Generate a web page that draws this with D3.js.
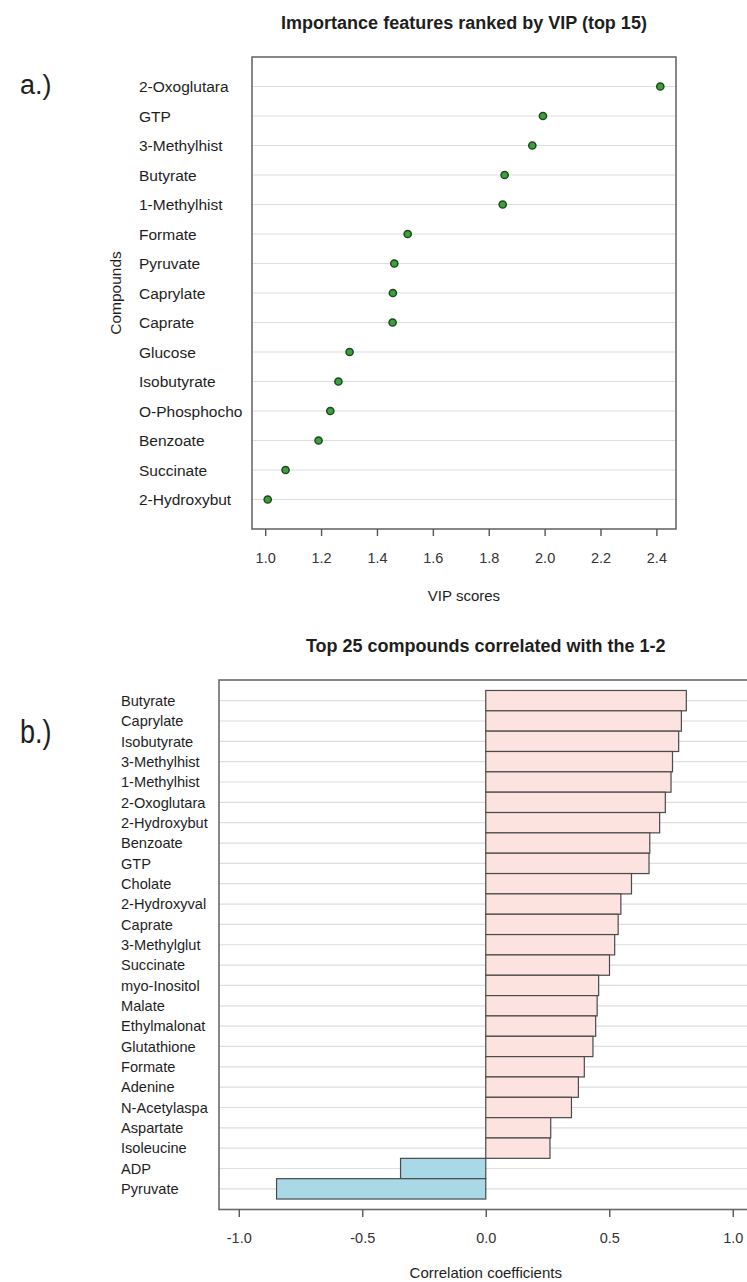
<!DOCTYPE html>
<html>
<head>
<meta charset="utf-8">
<script src="https://cdn.jsdelivr.net/npm/d3@7"></script>
<style>
  html, body { margin: 0; padding: 0; background: #fff; }
  svg { display: block; font-family: "Liberation Sans", Arial, sans-serif; }
</style>
</head>
<body>
<svg id="fig" width="747" height="1282"></svg>
<script>
// Panel a: VIP scores of the top 15 features
const vipCompounds = ["2-Oxoglutara", "GTP", "3-Methylhist", "Butyrate", "1-Methylhist",
  "Formate", "Pyruvate", "Caprylate", "Caprate", "Glucose", "Isobutyrate",
  "O-Phosphocho", "Benzoate", "Succinate", "2-Hydroxybut"];
const vipScores = [2.414, 1.994, 1.956, 1.857, 1.850, 1.510, 1.462, 1.457, 1.456,
  1.302, 1.262, 1.233, 1.191, 1.073, 1.009];
const vipTicks = [1.0, 1.2, 1.4, 1.6, 1.8, 2.0, 2.2, 2.4];
const vipTickLabels = ["1.0", "1.2", "1.4", "1.6", "1.8", "2.0", "2.2", "2.4"];

// Panel b: top 25 compounds correlated with the 1-2 pattern
const corrCompounds = ["Butyrate", "Caprylate", "Isobutyrate", "3-Methylhist", "1-Methylhist",
  "2-Oxoglutara", "2-Hydroxybut", "Benzoate", "GTP", "Cholate", "2-Hydroxyval", "Caprate",
  "3-Methylglut", "Succinate", "myo-Inositol", "Malate", "Ethylmalonat", "Glutathione",
  "Formate", "Adenine", "N-Acetylaspa", "Aspartate", "Isoleucine", "ADP", "Pyruvate"];
const corrValues = [0.812, 0.792, 0.781, 0.756, 0.750, 0.727, 0.704, 0.664, 0.661, 0.590,
  0.547, 0.536, 0.522, 0.501, 0.457, 0.451, 0.445, 0.434, 0.399, 0.375, 0.347, 0.263,
  0.260, -0.345, -0.847];
const corrTicks = [-1.0, -0.5, 0.0, 0.5, 1.0];
const corrTickLabels = ["-1.0", "-0.5", "0.0", "0.5", "1.0"];

const svg = d3.select("#fig");
const boxStroke = "#6a6a6a";
const textCol = "#1e1e1e";

// ---------- panel a (dot chart) ----------
const A = { left: 252, right: 676, top: 57, bottom: 529 };
const vipExt = d3.extent(vipScores);
const vipPad = (vipExt[1] - vipExt[0]) * 0.04;
const xA = d3.scaleLinear().domain([vipExt[0] - vipPad, vipExt[1] + vipPad]).range([A.left, A.right]);
const yA = d3.scalePoint().domain(vipCompounds).range([A.top, A.bottom]).padding(1);

const gA = svg.append("g");

gA.append("text")
  .attr("x", 20).attr("y", 94)
  .attr("font-size", 27).attr("fill", textCol)
  .text("a.)");

gA.append("text")
  .attr("x", (A.left + A.right) / 2).attr("y", 29)
  .attr("text-anchor", "middle")
  .attr("font-size", 18).attr("font-weight", "bold").attr("fill", textCol)
  .text("Importance features ranked by VIP (top 15)");

gA.selectAll("line.grid").data(vipCompounds).join("line")
  .attr("class", "grid")
  .attr("x1", A.left).attr("x2", A.right)
  .attr("y1", d => yA(d)).attr("y2", d => yA(d))
  .attr("stroke", "#dedede").attr("stroke-width", 1.2);

gA.append("rect")
  .attr("x", A.left).attr("y", A.top)
  .attr("width", A.right - A.left).attr("height", A.bottom - A.top)
  .attr("fill", "none").attr("stroke", boxStroke).attr("stroke-width", 1.6);

gA.selectAll("text.ylab").data(vipCompounds).join("text")
  .attr("class", "ylab")
  .attr("x", 139).attr("y", d => yA(d))
  .attr("dy", "0.36em")
  .attr("font-size", 15.5).attr("fill", textCol)
  .text(d => d);

gA.selectAll("circle.pt").data(vipCompounds).join("circle")
  .attr("class", "pt")
  .attr("cx", (d, i) => xA(vipScores[i]))
  .attr("cy", d => yA(d))
  .attr("r", 3.6)
  .attr("fill", "#3f9e3f").attr("stroke", "#1d4a1d").attr("stroke-width", 1.5);

const axA = gA.append("g")
  .attr("transform", `translate(0,${A.bottom})`)
  .call(d3.axisBottom(xA).tickValues(vipTicks)
    .tickFormat((d, i) => vipTickLabels[i]).tickSize(7).tickPadding(17));
axA.select(".domain").remove();
axA.selectAll(".tick line").attr("stroke", "#555").attr("stroke-width", 1.4);
axA.selectAll(".tick text").attr("font-size", 14.5).attr("fill", "#333")
  .attr("font-family", "Liberation Sans, Arial, sans-serif");

gA.append("text")
  .attr("x", (A.left + A.right) / 2).attr("y", 601)
  .attr("text-anchor", "middle")
  .attr("font-size", 15).attr("fill", textCol)
  .text("VIP scores");

gA.append("text")
  .attr("transform", `translate(121,${(A.top + A.bottom) / 2}) rotate(-90)`)
  .attr("text-anchor", "middle")
  .attr("font-size", 15.5).attr("fill", textCol)
  .text("Compounds");

// ---------- panel b (correlation bars) ----------
const B = { left: 219, top: 680, bottom: 1209.5 };
const corrLim = [-1, 1];
const corrPad = (corrLim[1] - corrLim[0]) * 0.04;
const pxPerUnit = 247;
const xB = d3.scaleLinear().domain([corrLim[0] - corrPad, corrLim[1] + corrPad])
  .range([B.left, B.left + (corrLim[1] - corrLim[0] + 2 * corrPad) * pxPerUnit]);
const yB = d3.scaleBand().domain(corrCompounds).range([B.top, B.bottom])
  .paddingInner(0).paddingOuter(0.515);
const B_right = xB.range()[1];

const gB = svg.append("g");

gB.append("text")
  .attr("x", 20).attr("y", 743)
  .attr("font-size", 27).attr("fill", textCol)
  .attr("transform", "translate(0,743) scale(1,1.25) translate(0,-743)")
  .text("b.)");

gB.append("text")
  .attr("x", xB(0)).attr("y", 652)
  .attr("text-anchor", "middle")
  .attr("font-size", 18).attr("font-weight", "bold").attr("fill", textCol)
  .text("Top 25 compounds correlated with the 1-2");

gB.selectAll("line.grid").data(corrCompounds).join("line")
  .attr("class", "grid")
  .attr("x1", B.left).attr("x2", B_right)
  .attr("y1", d => yB(d) + yB.bandwidth() / 2).attr("y2", d => yB(d) + yB.bandwidth() / 2)
  .attr("stroke", "#dedede").attr("stroke-width", 1.2);

gB.selectAll("rect.bar").data(corrCompounds).join("rect")
  .attr("class", "bar")
  .attr("x", (d, i) => xB(Math.min(0, corrValues[i])))
  .attr("width", (d, i) => Math.abs(xB(corrValues[i]) - xB(0)))
  .attr("y", d => yB(d))
  .attr("height", yB.bandwidth())
  .attr("fill", (d, i) => corrValues[i] >= 0 ? "#fde3df" : "#a9d8e6")
  .attr("stroke", "#4a4a4a").attr("stroke-width", 1.2);

gB.append("rect")
  .attr("x", B.left).attr("y", B.top)
  .attr("width", B_right - B.left).attr("height", B.bottom - B.top)
  .attr("fill", "none").attr("stroke", boxStroke).attr("stroke-width", 1.6);

gB.selectAll("text.ylab").data(corrCompounds).join("text")
  .attr("class", "ylab")
  .attr("x", 121).attr("y", d => yB(d) + yB.bandwidth() / 2)
  .attr("dy", "0.36em")
  .attr("font-size", 14.6).attr("fill", textCol)
  .text(d => d);

const axB = gB.append("g")
  .attr("transform", `translate(0,${B.bottom})`)
  .call(d3.axisBottom(xB).tickValues(corrTicks)
    .tickFormat((d, i) => corrTickLabels[i]).tickSize(7.5).tickPadding(15.5));
axB.select(".domain").remove();
axB.selectAll(".tick line").attr("stroke", "#555").attr("stroke-width", 1.4);
axB.selectAll(".tick text").attr("font-size", 14.5).attr("fill", "#333")
  .attr("font-family", "Liberation Sans, Arial, sans-serif");

gB.append("text")
  .attr("x", xB(0)).attr("y", 1278)
  .attr("text-anchor", "middle")
  .attr("font-size", 15).attr("fill", textCol)
  .text("Correlation coefficients");
</script>
</body>
</html>
